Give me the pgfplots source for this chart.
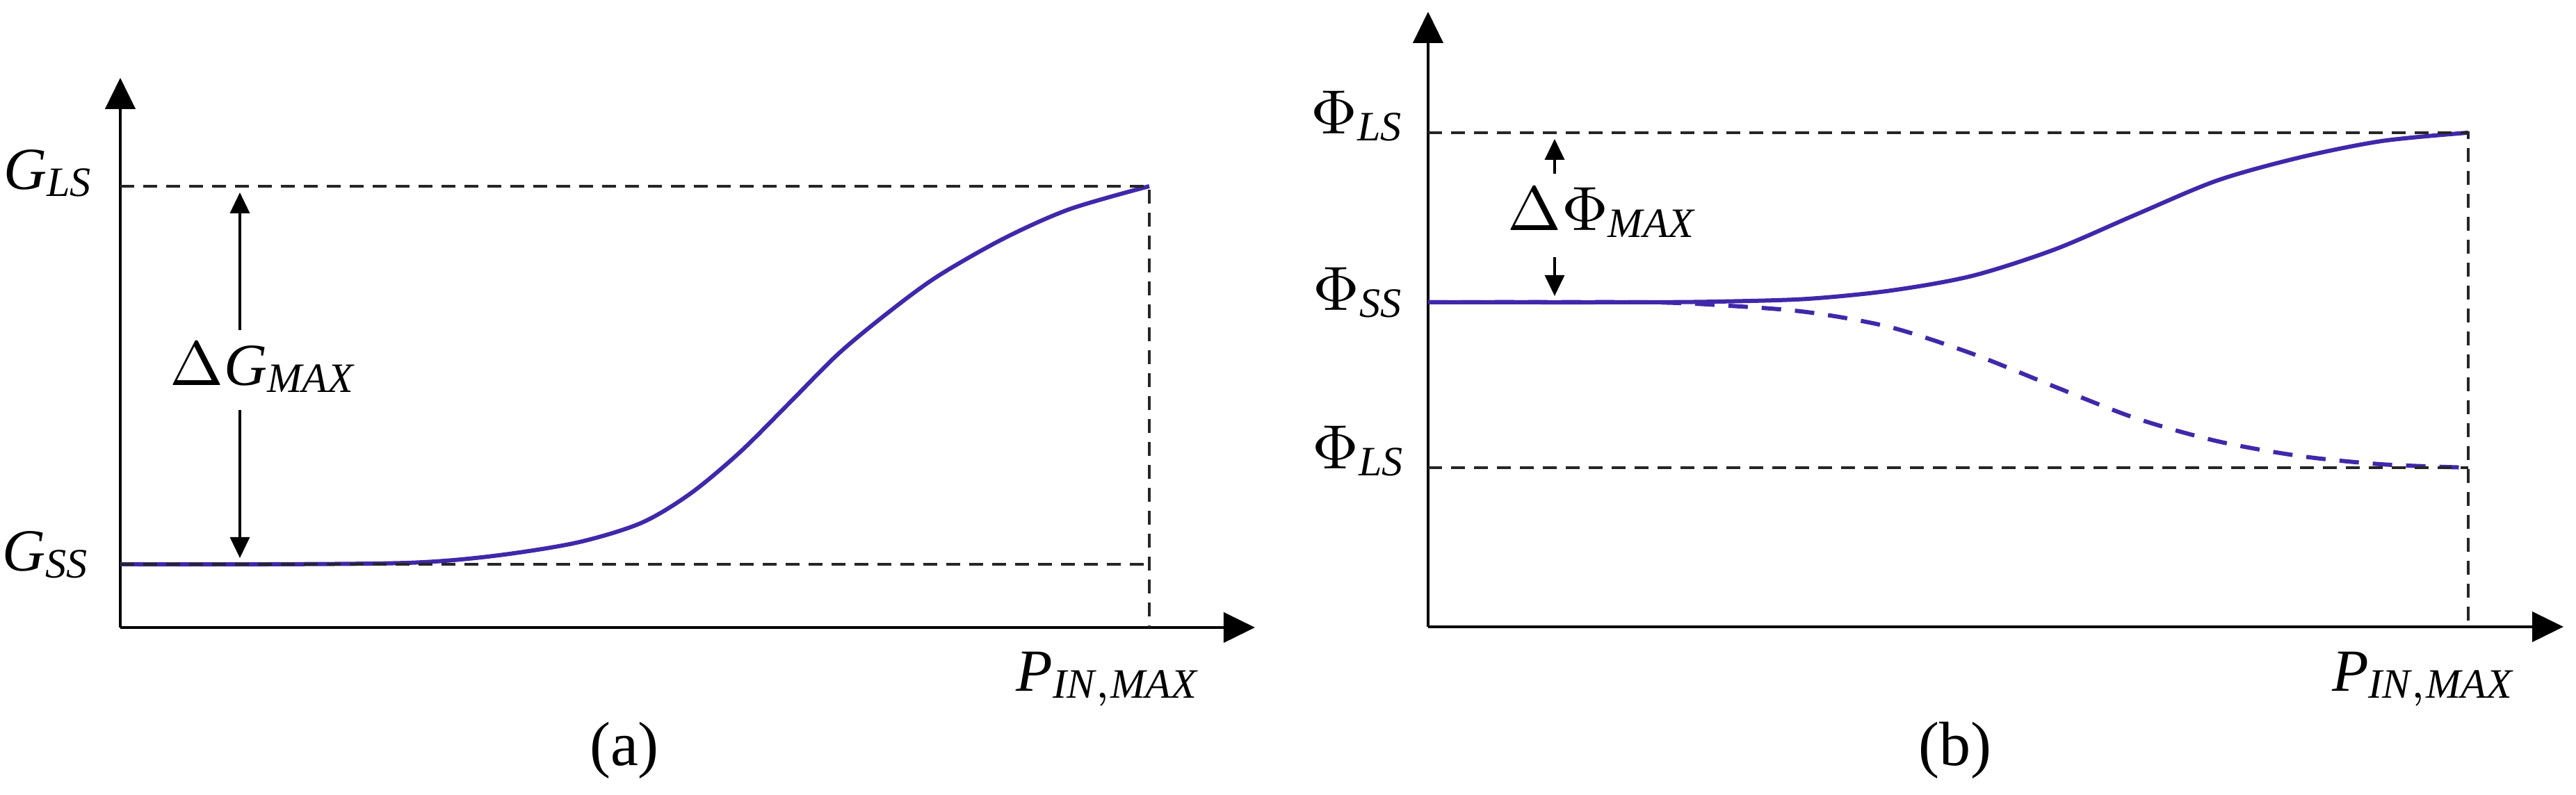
\documentclass[border=0pt]{standalone}
\usepackage{fontspec}
\setmainfont{Liberation Serif}
\usepackage{pgfplots}
\pgfplotsset{compat=1.18}
\usetikzlibrary{arrows.meta}

\definecolor{curve}{RGB}{64,40,170}
\tikzset{
  refline/.style = {black!85, line width=0.35pt, dash pattern=on 2pt off 1.3pt},
  dimarrow/.style = {line width=0.35pt, -{Triangle[length=3pt,width=2.8pt]}},
  lbl/.style = {font=\fontsize{8.6}{10}\selectfont, inner sep=0pt},
}
\pgfplotsset{
  sketch/.style = {
    x=0.1pt, y=0.1pt,
    axis lines=left,
    axis line style={line width=0.45pt, -{Triangle[length=4.5pt,width=4.3pt]}},
    xtick=\empty, ytick=\empty,
    clip=false,
  },
}
\newcommand{\sub}[2]{\mathit{#1}_{\mathit{#2}}}

\begin{document}
\begin{tikzpicture}
\useasboundingbox (0,0) rectangle (370.5pt,114.4pt);

% (a) gain vs input power
\begin{axis}[sketch, at={(17.3pt,24.1pt)}, anchor=south west,
  xmin=173, xmax=1805, ymin=241, ymax=1032]
\addplot[curve, line width=0.6pt, smooth] coordinates {
  (173,332) (395,332) (592,334.2) (710,344) (829,363) (922,391.3)
  (993,433.7) (1064,493) (1135,563.7) (1206,635) (1277,693.8)
  (1348,746) (1443,800.4) (1538,842.8) (1653,876)};
\draw[refline] (axis cs:173,876) -- (axis cs:1653,876) -- (axis cs:1653,241);
\draw[refline] (axis cs:173,332) -- (axis cs:1653,332);
\draw[dimarrow] (axis cs:345,669) -- (axis cs:345,867);
\draw[dimarrow] (axis cs:345,554) -- (axis cs:345,341);
\node[lbl, anchor=base east] at (axis cs:138,871) {$\sub{G}{LS}$};
\node[lbl, anchor=base east] at (axis cs:133,322) {$\sub{G}{SS}$};
\node[lbl, anchor=base west] at (axis cs:243,589) {$\Delta\sub{G}{MAX}$};
\node[lbl, anchor=base west] at (axis cs:1460,149) {$\sub{P}{IN,MAX}$};
\node[lbl, anchor=base, font=\fontsize{9}{11}\selectfont] at (axis cs:898,42) {(a)};
\end{axis}

% (b) phase vs input power
\begin{axis}[sketch, at={(205.4pt,24.2pt)}, anchor=south west,
  xmin=2054, xmax=3687, ymin=242, ymax=1127]
\addplot[curve, line width=0.6pt, smooth] coordinates {
  (2054,709) (2365,709) (2483,710.2) (2600,713.9) (2718,725.6)
  (2836,746.8) (2955,784.9) (3071,834.7) (3189,884.2) (3308,917.4)
  (3426,941) (3550,953)};
\addplot[curve, line width=0.6pt, smooth, dash pattern=on 2.8pt off 2pt] coordinates {
  (2054,709) (2365,709) (2483,704.2) (2600,694.7) (2718,673.3)
  (2836,635.2) (2955,587.6) (3071,542.4) (3189,509.1) (3308,487.7)
  (3426,475.8) (3550,471)};
\draw[refline] (axis cs:2054,953) -- (axis cs:3550,953) -- (axis cs:3550,242);
\draw[refline] (axis cs:2054,471) -- (axis cs:3550,471);
\draw[dimarrow] (axis cs:2236,894) -- (axis cs:2236,944);
\draw[dimarrow] (axis cs:2236,774) -- (axis cs:2236,718);
\node[lbl, anchor=base east] at (axis cs:2023,951) {$\Phi_{\mathit{LS}}$};
\node[lbl, anchor=base east] at (axis cs:2023,697) {$\Phi_{\mathit{SS}}$};
\node[lbl, anchor=base east] at (axis cs:2025,469) {$\Phi_{\mathit{LS}}$};
\node[lbl, anchor=base west] at (axis cs:2167,812) {$\Delta\Phi_{\mathit{MAX}}$};
\node[lbl, anchor=base west] at (axis cs:3352,149) {$\sub{P}{IN,MAX}$};
\node[lbl, anchor=base, font=\fontsize{9}{11}\selectfont] at (axis cs:2812,42) {(b)};
\end{axis}
\end{tikzpicture}
\end{document}
